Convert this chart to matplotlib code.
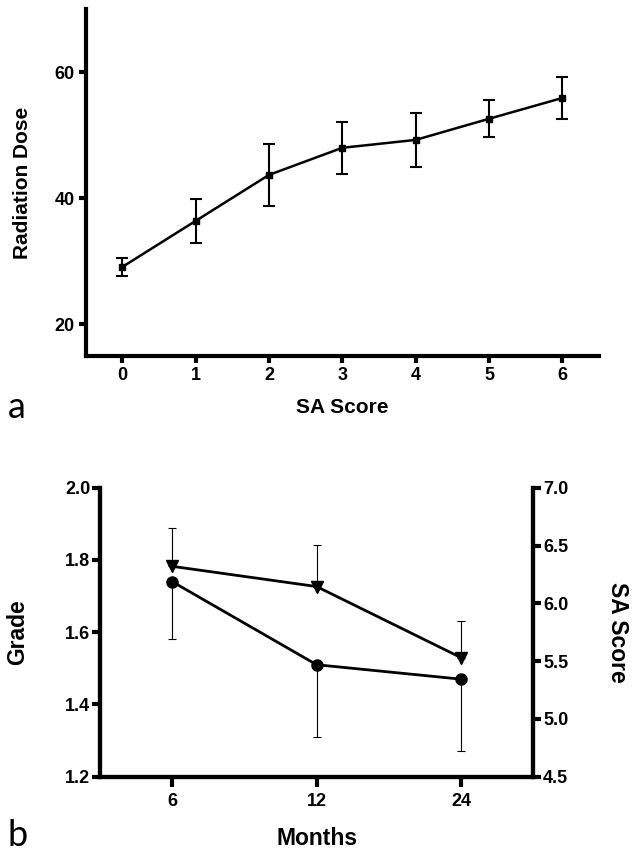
import numpy as np
import matplotlib
matplotlib.use("Agg")
import matplotlib.pyplot as plt

# panel a: radiation dose by SA score
sa_score = [0, 1, 2, 3, 4, 5, 6]
dose = [29.1, 36.4, 43.7, 48.0, 49.25, 52.6, 55.9]
dose_err = [1.4, 3.45, 4.85, 4.15, 4.25, 2.9, 3.3]

# panel b: grade (left axis) and SA score (right axis) over months
months = ["6", "12", "24"]
grade = [1.74, 1.51, 1.47]
grade_err = [0.16, 0.20, 0.20]
sa_months = [6.32, 6.145, 5.53]
sa_months_err = [0.33, 0.36, 0.32]

bold_font = ['Liberation Sans', 'DejaVu Sans']
plt.rcParams['font.family'] = bold_font
plt.rcParams['font.weight'] = 'bold'

fig = plt.figure(figsize=(6.32, 8.51), dpi=100)

# ---- panel a ----
ax1 = fig.add_axes([0.1353, 0.5817, 0.8125, 0.4077])
ax1.errorbar(sa_score, dose, yerr=dose_err, color='black', lw=1.8,
             marker='s', markersize=4, elinewidth=1.5, capsize=4, capthick=1.5)
ax1.set_xlim(-0.5, 6.5)
ax1.set_ylim(15, 70)
ax1.set_xticks(sa_score)
ax1.set_yticks([20, 40, 60])
for s in ['top', 'right']:
    ax1.spines[s].set_visible(False)
for s in ['left', 'bottom']:
    ax1.spines[s].set_linewidth(3)
ax1.tick_params(width=3, length=5, labelsize=13, pad=3)
ax1.set_xlabel("SA Score", fontsize=15, fontweight='bold', labelpad=10)
ax1.set_ylabel("Radiation Dose", fontsize=15, fontweight='bold', labelpad=16)

fig.text(0.012, 1 - 418 / 851, "a", fontsize=26, fontweight='normal',
         family=['Lato', 'DejaVu Sans'], va='baseline')

# ---- panel b ----
ax2 = fig.add_axes([0.1582, 0.0873, 0.6856, 0.3396])
ax3 = ax2.twinx()
x = np.arange(len(months))

ax2.errorbar(x, grade, yerr=[grade_err, [0, 0, 0]], color='black', lw=2,
             marker='o', markersize=8, elinewidth=0.8, capsize=3, capthick=0.8)
ax3.errorbar(x, sa_months, yerr=[[0, 0, 0], sa_months_err], color='black', lw=2,
             marker='v', markersize=8, elinewidth=0.8, capsize=3, capthick=0.8)

ax2.set_xlim(-0.5, 2.5)
ax2.set_ylim(1.2, 2.0)
ax3.set_ylim(4.5, 7.0)
ax2.set_xticks(x)
ax2.set_xticklabels(months)
ax2.set_yticks([1.2, 1.4, 1.6, 1.8, 2.0])
ax3.set_yticks([4.5, 5.0, 5.5, 6.0, 6.5, 7.0])
ax2.yaxis.set_major_formatter(matplotlib.ticker.FormatStrFormatter('%.1f'))
ax3.yaxis.set_major_formatter(matplotlib.ticker.FormatStrFormatter('%.1f'))

for a in [ax2, ax3]:
    a.spines['top'].set_visible(False)
    for s in ['left', 'bottom', 'right']:
        a.spines[s].set_linewidth(3)
    a.tick_params(width=3, length=6, labelsize=13, pad=1)
ax2.tick_params(axis='x', length=7, pad=5)

ax2.set_xlabel("Months", fontsize=16.5, fontweight='bold', labelpad=12)
ax2.set_ylabel("Grade", fontsize=16.5, fontweight='bold', labelpad=26)
ax3.set_ylabel("SA Score", fontsize=16.5, fontweight='bold', rotation=270,
               labelpad=27, va='bottom')

fig.text(0.012, 1 - 846 / 851, "b", fontsize=26, fontweight='normal',
         family=['Lato', 'DejaVu Sans'], va='baseline')

fig.savefig("out.png", dpi=100)
